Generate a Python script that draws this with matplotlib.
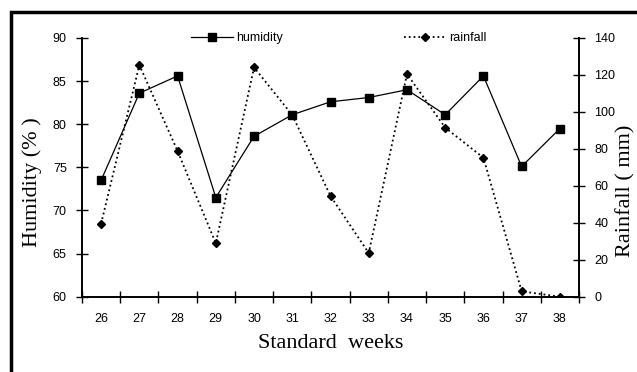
import matplotlib
matplotlib.use("Agg")
import matplotlib.pyplot as plt
from matplotlib.patches import Rectangle

weeks = ["26", "27", "28", "29", "30", "31", "32", "33", "34", "35", "36", "37", "38"]
humidity = [73.5, 83.6, 85.6, 71.5, 78.6, 81.1, 82.6, 83.1, 84.0, 81.1, 85.6, 75.1, 79.5]
rainfall = [39.5, 125.4, 78.8, 28.9, 124.1, 98.3, 54.5, 23.6, 120.5, 91.5, 75.2, 2.9, 0.0]

sans = "Liberation Sans"
serif = "Liberation Serif"

fig = plt.figure(figsize=(6.37, 3.72), dpi=100)
ax = fig.add_axes([82/637, 1-296.7/372, (579-82)/637, (296.7-38)/372])
ax2 = ax.twinx()

x = list(range(len(weeks)))
l1, = ax.plot(x, humidity, color="black", lw=0.9, marker="s", ms=5.5, label="humidity", zorder=3)
l2, = ax2.plot(x, rainfall, color="black", lw=1.3, ls=":", marker="D", ms=4.5, label="rainfall", zorder=2)

ax.set_xlim(-0.5, len(weeks) - 0.5)
ax.set_ylim(60, 90)
ax2.set_ylim(0, 140)
ax.set_yticks(range(60, 91, 5))
ax2.set_yticks(range(0, 141, 20))

ax.set_xticks([i - 0.5 for i in range(len(weeks) + 1)])
ax.set_xticklabels([])
ax.set_xticks(x, minor=True)
ax.set_xticklabels(weeks, minor=True)
ax.tick_params(axis="x", which="major", direction="inout", length=8, width=1)
ax.tick_params(axis="x", which="minor", length=0, pad=12, labelsize=9)
ax.tick_params(axis="y", direction="inout", length=8, width=1, labelsize=9, pad=7)
ax2.tick_params(axis="y", direction="inout", length=8, width=1, labelsize=9, pad=7)

for a in (ax, ax2):
    a.spines["top"].set_visible(False)
    for s in a.spines.values():
        s.set_linewidth(1.2)
    for lab in a.get_xticklabels(minor=True) + a.get_yticklabels():
        lab.set_fontfamily(sans)

ax.set_xlabel("Standard  weeks", fontfamily=serif, fontsize=16, labelpad=6)
ax.set_ylabel("Humidity (% )", fontfamily=serif, fontsize=16, va="center")
ax2.set_ylabel("Rainfall ( mm)", fontfamily=serif, fontsize=16, va="center")
ax.yaxis.set_label_coords((32 - 82) / 497, (296.7 - 182) / 258.7)
ax2.yaxis.set_label_coords((626 - 82) / 497, (296.7 - 191) / 258.7)

leg1 = ax.legend(handles=[l1], loc="center left", bbox_to_anchor=(185/637, 1-38/372),
                 bbox_transform=fig.transFigure, frameon=False, borderpad=0,
                 handlelength=3.3, handletextpad=0.3, numpoints=1,
                 prop={"family": sans, "size": 9})
leg2 = ax2.legend(handles=[l2], loc="center left", bbox_to_anchor=(398/637, 1-38/372),
                  bbox_transform=fig.transFigure, frameon=False, borderpad=0,
                  handlelength=3.3, handletextpad=0.3, numpoints=1,
                  prop={"family": sans, "size": 9})

border = Rectangle((11/637, -0.2), 1.5, 1 - 12/372 + 0.2, transform=fig.transFigure,
                   fill=False, lw=2.5, edgecolor="black", clip_on=False)
fig.patches.append(border)

fig.savefig("out.png", dpi=100)
